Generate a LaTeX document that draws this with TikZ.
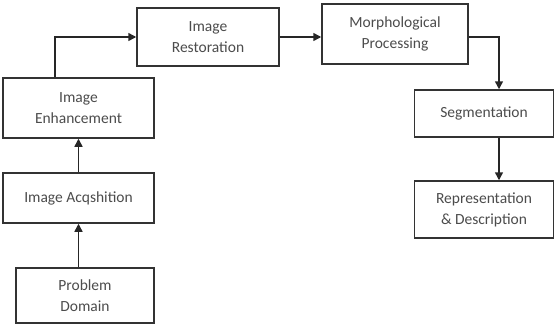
\documentclass[tikz,border=0pt]{standalone}
\usepackage{fontspec}
\setmainfont{Carlito}
\usetikzlibrary{arrows.meta}
\tikzset{%
  >={Triangle[width=8pt,length=8pt]},
  % Specifications for style of nodes:
            base/.style = {rectangle, draw=black!80, line width=1.5pt,
                           text centered, align=center, text=black!70,
                           font=\fontsize{15.5}{21}\selectfont},
             box/.style = {base, fill=white},
         flowline/.style = {draw=black!85, line width=1.5pt}
}
\begin{document}
\begin{tikzpicture}[x=1pt, y=-1pt]
  \useasboundingbox (0,0) rectangle (556,325);
  % Specification of nodes (position, etc.)
  \node (enh)   [box, minimum width=151pt, minimum height=60pt] at (78.5,108)   {Image\\Enhancement};
  \node (acq)   [box, minimum width=151pt, minimum height=50pt] at (78.5,198)   {Image Acqshition};
  \node (prob)  [box, minimum width=138pt, minimum height=55pt] at (85,295.5)   {Problem\\Domain};
  \node (rest)  [box, minimum width=142pt, minimum height=58pt] at (208,37)     {Image\\Restoration};
  \node (morph) [box, minimum width=146pt, minimum height=60pt] at (395,34)     {Morphological\\Processing};
  \node (seg)   [box, minimum width=139pt, minimum height=47pt] at (484,113.5)  {Segmentation};
  \node (repr)  [box, minimum width=139pt, minimum height=57pt] at (484,209.5)  {Representation\\\& Description};

  \coordinate (bendl) at (55,37);
  \coordinate (bendr) at (499,37);

  \draw[flowline, ->] (prob.north -| acq.south) -- (acq.south);
  \draw[flowline, ->] (acq.north) -- (enh.south);
  \draw[flowline, ->] (enh.north -| bendl) |- (rest.west);
  \draw[flowline, ->] (rest.east) -- (morph.west |- rest.east);
  \draw[flowline, ->] (morph.east |- bendr) -| (seg.north -| bendr);
  \draw[flowline, ->] (seg.south -| bendr) -- (repr.north -| bendr);
\end{tikzpicture}
\end{document}
